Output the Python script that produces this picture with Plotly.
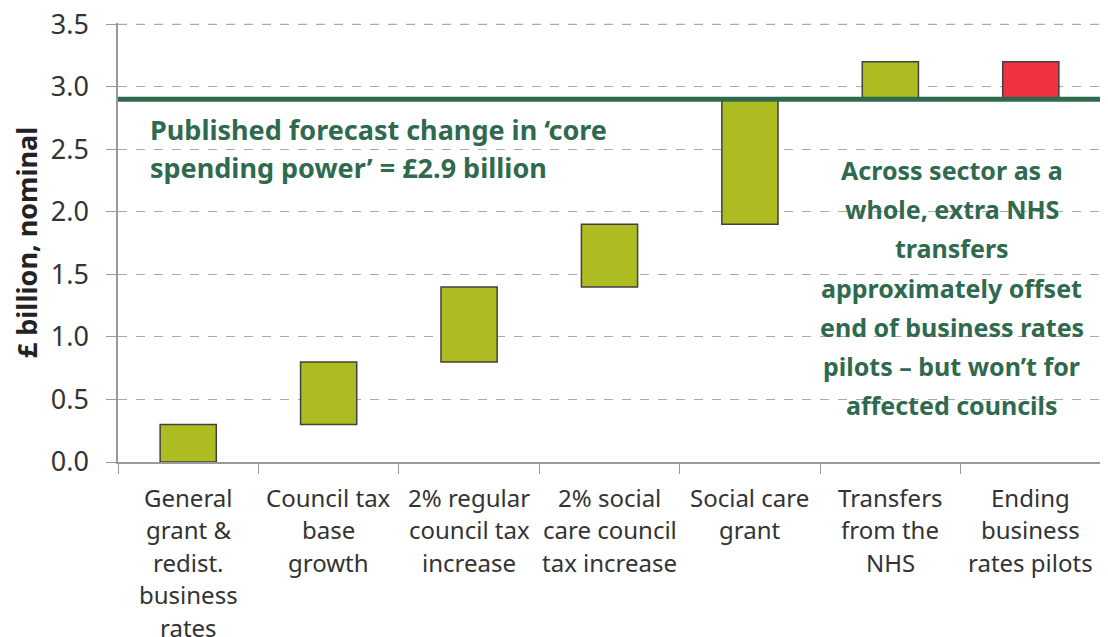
import plotly.graph_objects as go

# categories, split into label lines
label_lines = [
    ["General", "grant &", "redist.", "business", "rates"],
    ["Council tax", "base", "growth"],
    ["2% regular", "council tax", "increase"],
    ["2% social", "care council", "tax increase"],
    ["Social care", "grant"],
    ["Transfers", "from the", "NHS"],
    ["Ending", "business", "rates pilots"],
]
categories = [" ".join(l) for l in label_lines]

# change in £ billion for each step
changes = [0.3, 0.5, 0.6, 0.5, 1.0, 0.3, -0.3]
published_total = 2.9
y_ticks = [0, 0.5, 1.0, 1.5, 2.0, 2.5, 3.0, 3.5]
y_top = 3.51

bar_colors = ["#AEBC21"] * 6 + ["#F0323F"]

left_note = ["Published forecast change in \u2018core",
             "spending power\u2019 = \u00a32.9 billion"]
right_note = ["Across sector as a", "whole, extra NHS", "transfers",
              "approximately offset", "end of business rates",
              "pilots \u2013 but won\u2019t for", "affected councils"]

# running totals give each bar's starting point
bases = []
running = 0.0
for c in changes:
    bases.append(running)
    running += c

FONT = "Noto Sans"
GREEN = "#2F6A4F"
# the page body adds an 8px offset, so the figure is a bit smaller than the window
W, H = 1100, 629
TOP, BOTTOM = 15, 454  # plot area pixel rows within the figure


def ypaper(px):
    return (BOTTOM - (px - 8)) / (BOTTOM - TOP)


fig = go.Figure()
fig.add_trace(go.Bar(
    x=categories, y=changes, base=bases, width=0.4,
    marker=dict(color=bar_colors, line=dict(color="#404040", width=1.5)),
    showlegend=False, hoverinfo="skip",
))

# top gridline in paper units (not clipped like a data-referenced shape)
top_grid = y_ticks[-1] / y_top
fig.add_shape(type="line", xref="paper", x0=0, x1=1, yref="paper",
              y0=top_grid, y1=top_grid,
              line=dict(color="#AAAAAA", width=1, dash="dash"), layer="above")

fig.add_shape(type="line", xref="paper", x0=0, x1=1, yref="y",
              y0=published_total, y1=published_total,
              line=dict(color=GREEN, width=5), layer="above")

# category labels, one annotation per line for the wide line spacing
for cat, lines in zip(categories, label_lines):
    for i, txt in enumerate(lines):
        fig.add_annotation(x=cat, xref="x", y=0, yref="y", text=txt,
                           showarrow=False, yanchor="middle", yshift=-35 - 32.5 * i,
                           font=dict(family=FONT, size=24, color="#333333"))

for i, txt in enumerate(left_note):
    fig.add_annotation(x=0.0305, xref="paper", y=ypaper(130 + 37 * i), yref="paper",
                       text="<b>%s</b>" % txt, showarrow=False,
                       xanchor="left", yanchor="middle",
                       font=dict(family=FONT, size=27, color=GREEN))

for i, txt in enumerate(right_note):
    fig.add_annotation(x=0.848, xref="paper", y=ypaper(170 + 39.2 * i), yref="paper",
                       text="<b>%s</b>" % txt, showarrow=False,
                       xanchor="center", yanchor="middle",
                       font=dict(family=FONT, size=25, color=GREEN))

fig.update_layout(
    width=W, height=H,
    margin=dict(l=110, r=7, t=TOP, b=H - BOTTOM),
    plot_bgcolor="white", paper_bgcolor="white",
    font=dict(family=FONT, size=24, color="#333333"),
)
fig.update_xaxes(showticklabels=False, ticks="outside", tickson="boundaries",
                 ticklen=10, tickcolor="#999999", showline=True, linecolor="#999999",
                 linewidth=1.5, showgrid=False, range=[-0.5, 6.5], automargin=False)
fig.update_yaxes(range=[0, y_top], tickvals=y_ticks,
                 tickformat=".1f", ticklabeloverflow="allow",
                 ticks="outside", ticklen=10, tickcolor="#999999",
                 showline=True, linecolor="#999999", linewidth=1.5,
                 showgrid=True, gridcolor="#AAAAAA", griddash="dash", gridwidth=1,
                 zeroline=False, tickfont=dict(size=27, color="#333333"),
                 ticklabelstandoff=12, automargin=False,
                 title=dict(text="<b>\u00a3 billion, nominal</b>", standoff=27,
                            font=dict(size=27, color="#222222")))

fig.write_html("out.html")
